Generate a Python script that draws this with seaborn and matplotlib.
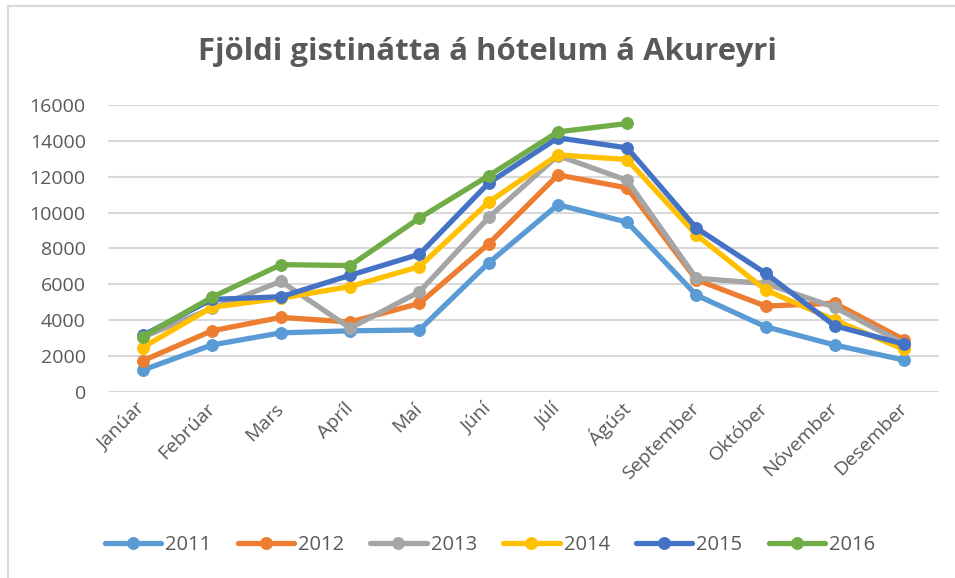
import numpy as np
import pandas as pd
import matplotlib
matplotlib.use("Agg")
import matplotlib.pyplot as plt
from matplotlib.patches import Rectangle
import seaborn as sns

sns.set_style("white")
plt.rcParams['font.family'] = ['Open Sans', 'DejaVu Sans']

# months and yearly series (gistinætur per month)
months = ['Janúar', 'Febrúar', 'Mars', 'Apríl', 'Maí', 'Júní', 'Júlí',
          'Ágúst', 'September', 'Október', 'Nóvember', 'Desember']
years = ['2011', '2012', '2013', '2014', '2015', '2016']

v2011 = [1220, 2620, 3300, 3410, 3460, 7200, 10440, 9470, 5400, 3640, 2620, 1780]
v2012 = [1740, 3410, 4160, 3900, 4940, 8260, 12100, 11380, 6260, 4790, 4950, 2920]
v2013 = [3050, 4660, 6170, 3560, 5590, 9730, 13180, 11800, 6340, 6050, 4720, 2700]
v2014 = [2480, 4720, 5230, 5880, 6990, 10590, 13220, 12960, 8760, 5690, 4010, 2370]
v2015 = [3150, 5160, 5310, 6510, 7680, 11650, 14170, 13610, 9140, 6620, 3690, 2670]
v2016 = [3080, 5280, 7100, 7050, 9700, 12060, 14500, 14970,
         np.nan, np.nan, np.nan, np.nan]

colors = ['#5B9BD5', '#ED7D31', '#A5A5A5', '#FFC000', '#4472C4', '#70AD47']
TEXT = '#595959'
GRID = '#D9D9D9'

series = [v2011, v2012, v2013, v2014, v2015, v2016]
df = pd.DataFrame({
    'month': np.tile(np.arange(len(months)), len(years)),
    'year': np.repeat(years, len(months)),
    'value': np.concatenate(series),
})

fig = plt.figure(figsize=(9.55, 5.78), dpi=100)
ax = fig.add_axes([108 / 955, 1 - 392 / 578, (938.6 - 108) / 955, (392 - 105) / 578])

sns.lineplot(data=df, x='month', y='value', hue='year', hue_order=years,
             palette=colors, marker='o', markersize=8.5, linewidth=3.8, ax=ax,
             legend=True)
for line in ax.lines:
    line.set_markeredgecolor(line.get_color())
    line.set_solid_capstyle('round')

ax.set_xlim(-0.5, 11.5)
ax.set_ylim(0, 16000)
ax.set_yticks(range(0, 16001, 2000))
ax.set_xticks(range(len(months)))
ax.set_xticklabels(months, rotation=45, ha='right', va='center',
                   rotation_mode='anchor')
ax.tick_params(axis='both', length=0, labelsize=14, labelcolor=TEXT)
ax.tick_params(axis='y', pad=16)
ax.tick_params(axis='x', pad=10)
ax.grid(axis='y', color=GRID, linewidth=1.5)
ax.set_axisbelow(True)
for s in ax.spines.values():
    s.set_visible(False)
ax.set_xlabel('')
ax.set_ylabel('')

handles, labels = ax.get_legend_handles_labels()
ax.get_legend().remove()
fig.legend(handles, labels, loc='center', ncol=6,
           bbox_to_anchor=(0.513, 1 - 545 / 578), frameon=False,
           fontsize=14.5, labelcolor=TEXT, handlelength=2.8,
           handletextpad=0.2, columnspacing=1.3)

fig.text(0.5105, 1 - 52 / 578, 'Fjöldi gistinátta á hótelum á Akureyri',
         ha='center', va='center', fontsize=22.4, fontweight='bold', color=TEXT)

fig.add_artist(Rectangle((8 / 955, -0.1), 1.2, 1.1 - 6 / 578,
                         transform=fig.transFigure, fill=False,
                         edgecolor=GRID, linewidth=1.5))

fig.savefig('out.png', dpi=100)
